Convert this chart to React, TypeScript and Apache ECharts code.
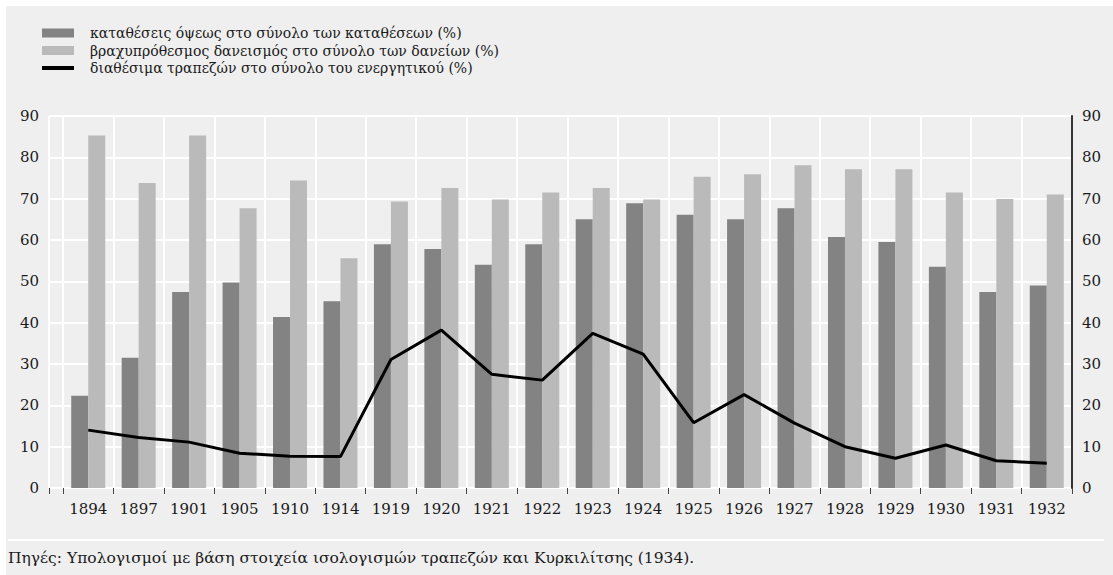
import React, { useEffect, useRef } from "react";
import * as echarts from "echarts";

const categories = ["1894", "1897", "1901", "1905", "1910", "1914", "1919", "1920", "1921", "1922", "1923", "1924", "1925", "1926", "1927", "1928", "1929", "1930", "1931", "1932"];
const demandDeposits = [22.3, 31.5, 47.4, 49.7, 41.4, 45.2, 59.0, 57.8, 54.0, 59.0, 65.0, 68.9, 66.1, 65.0, 67.7, 60.7, 59.5, 53.5, 47.4, 49.0];
const shortTermLoans = [85.3, 73.8, 85.3, 67.7, 74.4, 55.6, 69.3, 72.6, 69.8, 71.5, 72.6, 69.8, 75.3, 75.9, 78.1, 77.1, 77.1, 71.5, 69.9, 71.0];
const bankLiquidity = [14.0, 12.2, 11.1, 8.4, 7.7, 7.6, 31.1, 38.2, 27.5, 26.1, 37.4, 32.4, 15.8, 22.6, 15.7, 10.0, 7.2, 10.4, 6.6, 6.0];
const yTicks = { min: 0, max: 90, interval: 10 };

const nameDeposits = "καταθέσεις όψεως στο σύνολο των καταθέσεων (%)";
const nameLoans = "βραχυπρόθεσμος δανεισμός στο σύνολο των δανείων (%)";
const nameLiquidity = "διαθέσιμα τραπεζών στο σύνολο του ενεργητικού (%)";
const sourceNote = "Πηγές: Υπολογισμοί με βάση στοιχεία ισολογισμών τραπεζών και Κυρκιλίτσης (1934).";

const FONT = "DejaVu Serif";
const TXT = "#1a1a1a";
const BG = "#efefef";

export default function App() {
  const ref = useRef<HTMLDivElement>(null);
  useEffect(() => {
    if (!ref.current) return;
    const chart = echarts.init(ref.current, null, { renderer: "svg" });
    const grid = { color: "#ffffff", width: 2 };
    chart.setOption({
      animation: false,
      backgroundColor: "#ffffff",
      textStyle: { fontFamily: FONT },
      graphic: [
        { type: "rect", z: -10, shape: { x: 6, y: 6, width: 1107, height: 569 }, style: { fill: BG } },
        { type: "line", z: -5, shape: { x1: 8, y1: 540, x2: 1104, y2: 540 }, style: { stroke: "#ffffff", lineWidth: 2 } },
        { type: "text", left: 8, top: 550, style: { text: sourceNote, fontSize: 15.5, fontFamily: FONT, fill: TXT } },
      ],
      legend: {
        orient: "vertical",
        left: 42,
        top: 25,
        padding: 0,
        itemWidth: 32,
        itemHeight: 9,
        itemGap: 1.5,
        textStyle: { fontSize: 14, fontFamily: FONT, color: TXT, lineHeight: 16, padding: [0, 0, 0, 11] },
        data: [
          { name: nameDeposits, icon: "rect" },
          { name: nameLoans, icon: "rect" },
          { name: nameLiquidity, icon: "path://M0,0H32V4H0Z", itemStyle: { color: "#000" } },
        ],
      },
      grid: [
        { left: 63, right: 41, top: 116, bottom: 87 },
        { left: 49, width: 14, top: 116, bottom: 87 },
      ],
      xAxis: [
        {
          type: "category",
          gridIndex: 0,
          data: categories,
          axisLine: { show: false },
          axisTick: { show: true, length: 6, lineStyle: { color: "#444", width: 1 } },
          axisLabel: { interval: 0, fontSize: 15, fontFamily: FONT, color: TXT, margin: 13 },
          splitLine: { show: true, interval: 0, lineStyle: grid },
        },
        {
          type: "value",
          gridIndex: 1,
          min: 0,
          max: 1,
          interval: 1,
          axisLine: { show: false },
          axisTick: { show: true, length: 6, lineStyle: { color: "#444", width: 1 } },
          axisLabel: { show: false },
          splitLine: { show: true, lineStyle: grid },
        },
      ],
      yAxis: [
        {
          type: "value",
          gridIndex: 0,
          position: "left",
          ...yTicks,
          axisLine: { show: false },
          axisTick: { show: false },
          axisLabel: { fontSize: 15, fontFamily: FONT, color: TXT, margin: 24 },
          splitLine: { show: true, lineStyle: grid },
        },
        {
          type: "value",
          gridIndex: 0,
          position: "right",
          ...yTicks,
          axisLine: { show: true, lineStyle: { color: "#333", width: 2 } },
          axisTick: { show: false },
          axisLabel: { fontSize: 15, fontFamily: FONT, color: TXT, margin: 10 },
          splitLine: { show: false },
        },
        {
          type: "value",
          gridIndex: 1,
          ...yTicks,
          axisLine: { show: false },
          axisTick: { show: false },
          axisLabel: { show: false },
          splitLine: { show: true, lineStyle: grid },
        },
      ],
      series: [
        {
          name: nameDeposits,
          type: "bar",
          xAxisIndex: 0,
          yAxisIndex: 0,
          data: demandDeposits,
          barWidth: 17,
          barGap: "0%",
          itemStyle: { color: "#838383" },
        },
        {
          name: nameLoans,
          type: "bar",
          xAxisIndex: 0,
          yAxisIndex: 0,
          data: shortTermLoans,
          barWidth: 17,
          barGap: "0%",
          itemStyle: { color: "#bababa" },
        },
        {
          name: nameLiquidity,
          type: "line",
          xAxisIndex: 0,
          yAxisIndex: 1,
          data: bankLiquidity,
          symbol: "none",
          z: 5,
          lineStyle: { color: "#000000", width: 3 },
          itemStyle: { color: "#000000" },
        },
      ],
    });
    return () => chart.dispose();
  }, []);
  return <div ref={ref} style={{ position: "fixed", left: 0, top: 0, width: 1113, height: 575 }} />;
}
